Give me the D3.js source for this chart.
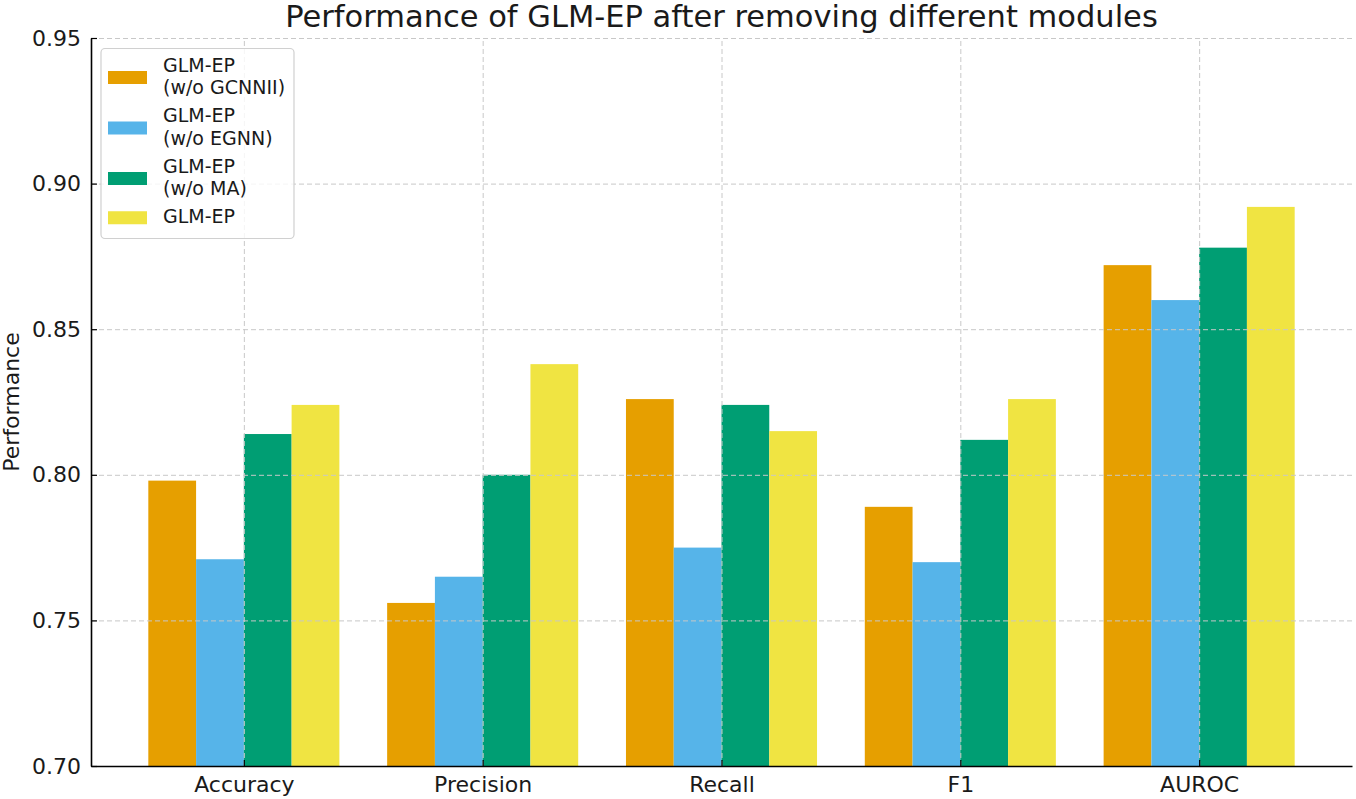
<!doctype html>
<html lang="en">
	<head>
		<meta charset="UTF-8">
		<title>Performance of GLM-EP after removing different modules</title>
		<style>
			body {
				margin: 0;
				background-color: #ffffff;
			}
			svg text {
				font-family: "DejaVu Sans", sans-serif;
				fill: #1a1a1a;
			}
			.grid line {
				stroke: #c8c8c8;
				stroke-width: 1;
				stroke-dasharray: 5, 3;
			}
		</style>
	</head>
	<body>
		<svg class="bar-chart"></svg>

		<script src="https://d3js.org/d3.v7.min.js"></script>
		<script>

			// Data Set
			var metrics = ["Accuracy", "Precision", "Recall", "F1", "AUROC"];
			var seriesNames = ["GLM-EP\n(w/o GCNNII)", "GLM-EP\n(w/o EGNN)", "GLM-EP\n(w/o MA)", "GLM-EP"];
			var seriesColors = ["#e69f00", "#56b4e9", "#009e73", "#f0e442"];
			var woGCNNII = [0.798, 0.756, 0.826, 0.789, 0.872];
			var woEGNN = [0.771, 0.765, 0.775, 0.770, 0.860];
			var woMA = [0.814, 0.800, 0.824, 0.812, 0.878];
			var full = [0.824, 0.838, 0.815, 0.826, 0.892];
			var yTicks = [0.70, 0.75, 0.80, 0.85, 0.90, 0.95];

			var allSeries = [woGCNNII, woEGNN, woMA, full];

			// Setting up the chart area svg
			var svgWidth = 1356, svgHeight = 799;
			var margin = {top: 38, right: 4, bottom: 33, left: 91};
			var plotW = svgWidth - margin.left - margin.right;
			var plotH = svgHeight - margin.top - margin.bottom;

			var svg = d3.select("svg")
				.attr("width", svgWidth)
				.attr("height", svgHeight);

			var g = svg.append("g")
				.attr("transform", "translate(" + margin.left + "," + margin.top + ")");

			// scales
			var xScale = d3.scalePoint()
				.domain(metrics)
				.range([0, plotW])
				.padding(0.64);

			var groupW = xScale.step() * 0.8;
			var xInner = d3.scaleBand()
				.domain(d3.range(allSeries.length))
				.range([-groupW / 2, groupW / 2]);

			var yScale = d3.scaleLinear()
				.domain([0.70, 0.95])
				.range([plotH, 0]);

			// bars
			allSeries.forEach(function(vals, s) {
				g.append("g")
					.selectAll("rect")
					.data(vals)
					.enter()
					.append("rect")
					.attr("x", function(d, i) { return xScale(metrics[i]) + xInner(s); })
					.attr("width", xInner.bandwidth())
					.attr("y", function(d) { return yScale(d); })
					.attr("height", function(d) { return plotH - yScale(d); })
					.attr("fill", seriesColors[s]);
			});

			// grid on top of bars
			g.append("g")
				.attr("class", "grid")
				.call(d3.axisLeft(yScale).tickValues(yTicks).tickSize(-plotW).tickFormat(""))
				.call(function(sel) { sel.select(".domain").remove(); });

			g.append("g")
				.attr("class", "grid")
				.attr("transform", "translate(0," + plotH + ")")
				.call(d3.axisBottom(xScale).tickSize(-plotH).tickFormat(""))
				.call(function(sel) { sel.select(".domain").remove(); });

			// axes, ticks pointing inward
			var yAxis = g.append("g")
				.call(d3.axisLeft(yScale).tickValues(yTicks).tickSizeInner(-6).tickSizeOuter(0)
					.tickPadding(10).tickFormat(d3.format(".2f")));

			var xAxis = g.append("g")
				.attr("transform", "translate(0," + plotH + ")")
				.call(d3.axisBottom(xScale).tickSizeInner(-6).tickSizeOuter(0).tickPadding(10));

			[yAxis, xAxis].forEach(function(ax) {
				ax.select(".domain").attr("stroke", "#000").attr("stroke-width", 1.6);
				ax.selectAll(".tick line").attr("stroke", "#000").attr("stroke-width", 1.2);
				ax.selectAll(".tick text")
					.attr("font-size", 22)
					.attr("font-family", "DejaVu Sans")
					.attr("fill", "#1a1a1a");
			});

			// title
			svg.append("text")
				.attr("x", margin.left + plotW / 2)
				.attr("y", 27)
				.attr("text-anchor", "middle")
				.attr("font-size", 30.5)
				.text("Performance of GLM-EP after removing different modules");

			// y label
			svg.append("text")
				.attr("transform", "translate(19," + (margin.top + plotH / 2) + ") rotate(-90)")
				.attr("text-anchor", "middle")
				.attr("font-size", 22)
				.text("Performance");

			// legend
			var legend = svg.append("g");
			legend.append("rect")
				.attr("x", 101)
				.attr("y", 48.5)
				.attr("width", 193)
				.attr("height", 190)
				.attr("rx", 4)
				.attr("fill", "#fff")
				.attr("fill-opacity", 0.8)
				.attr("stroke", "#d0d0d0")
				.attr("stroke-width", 1.2);

			var lineH = 22.5, gap = 5.5, cursor = 55;
			seriesNames.forEach(function(name, s) {
				var lines = name.split("\n");
				var h = lines.length * lineH;
				legend.append("rect")
					.attr("x", 108)
					.attr("y", cursor + h / 2 - 6.5)
					.attr("width", 39)
					.attr("height", 13)
					.attr("fill", seriesColors[s]);
				lines.forEach(function(t, k) {
					legend.append("text")
						.attr("x", 163)
						.attr("y", cursor + (k + 0.75) * lineH)
						.attr("font-size", 19)
						.text(t);
				});
				cursor += h + gap;
			});

		</script>
	</body>
</html>
